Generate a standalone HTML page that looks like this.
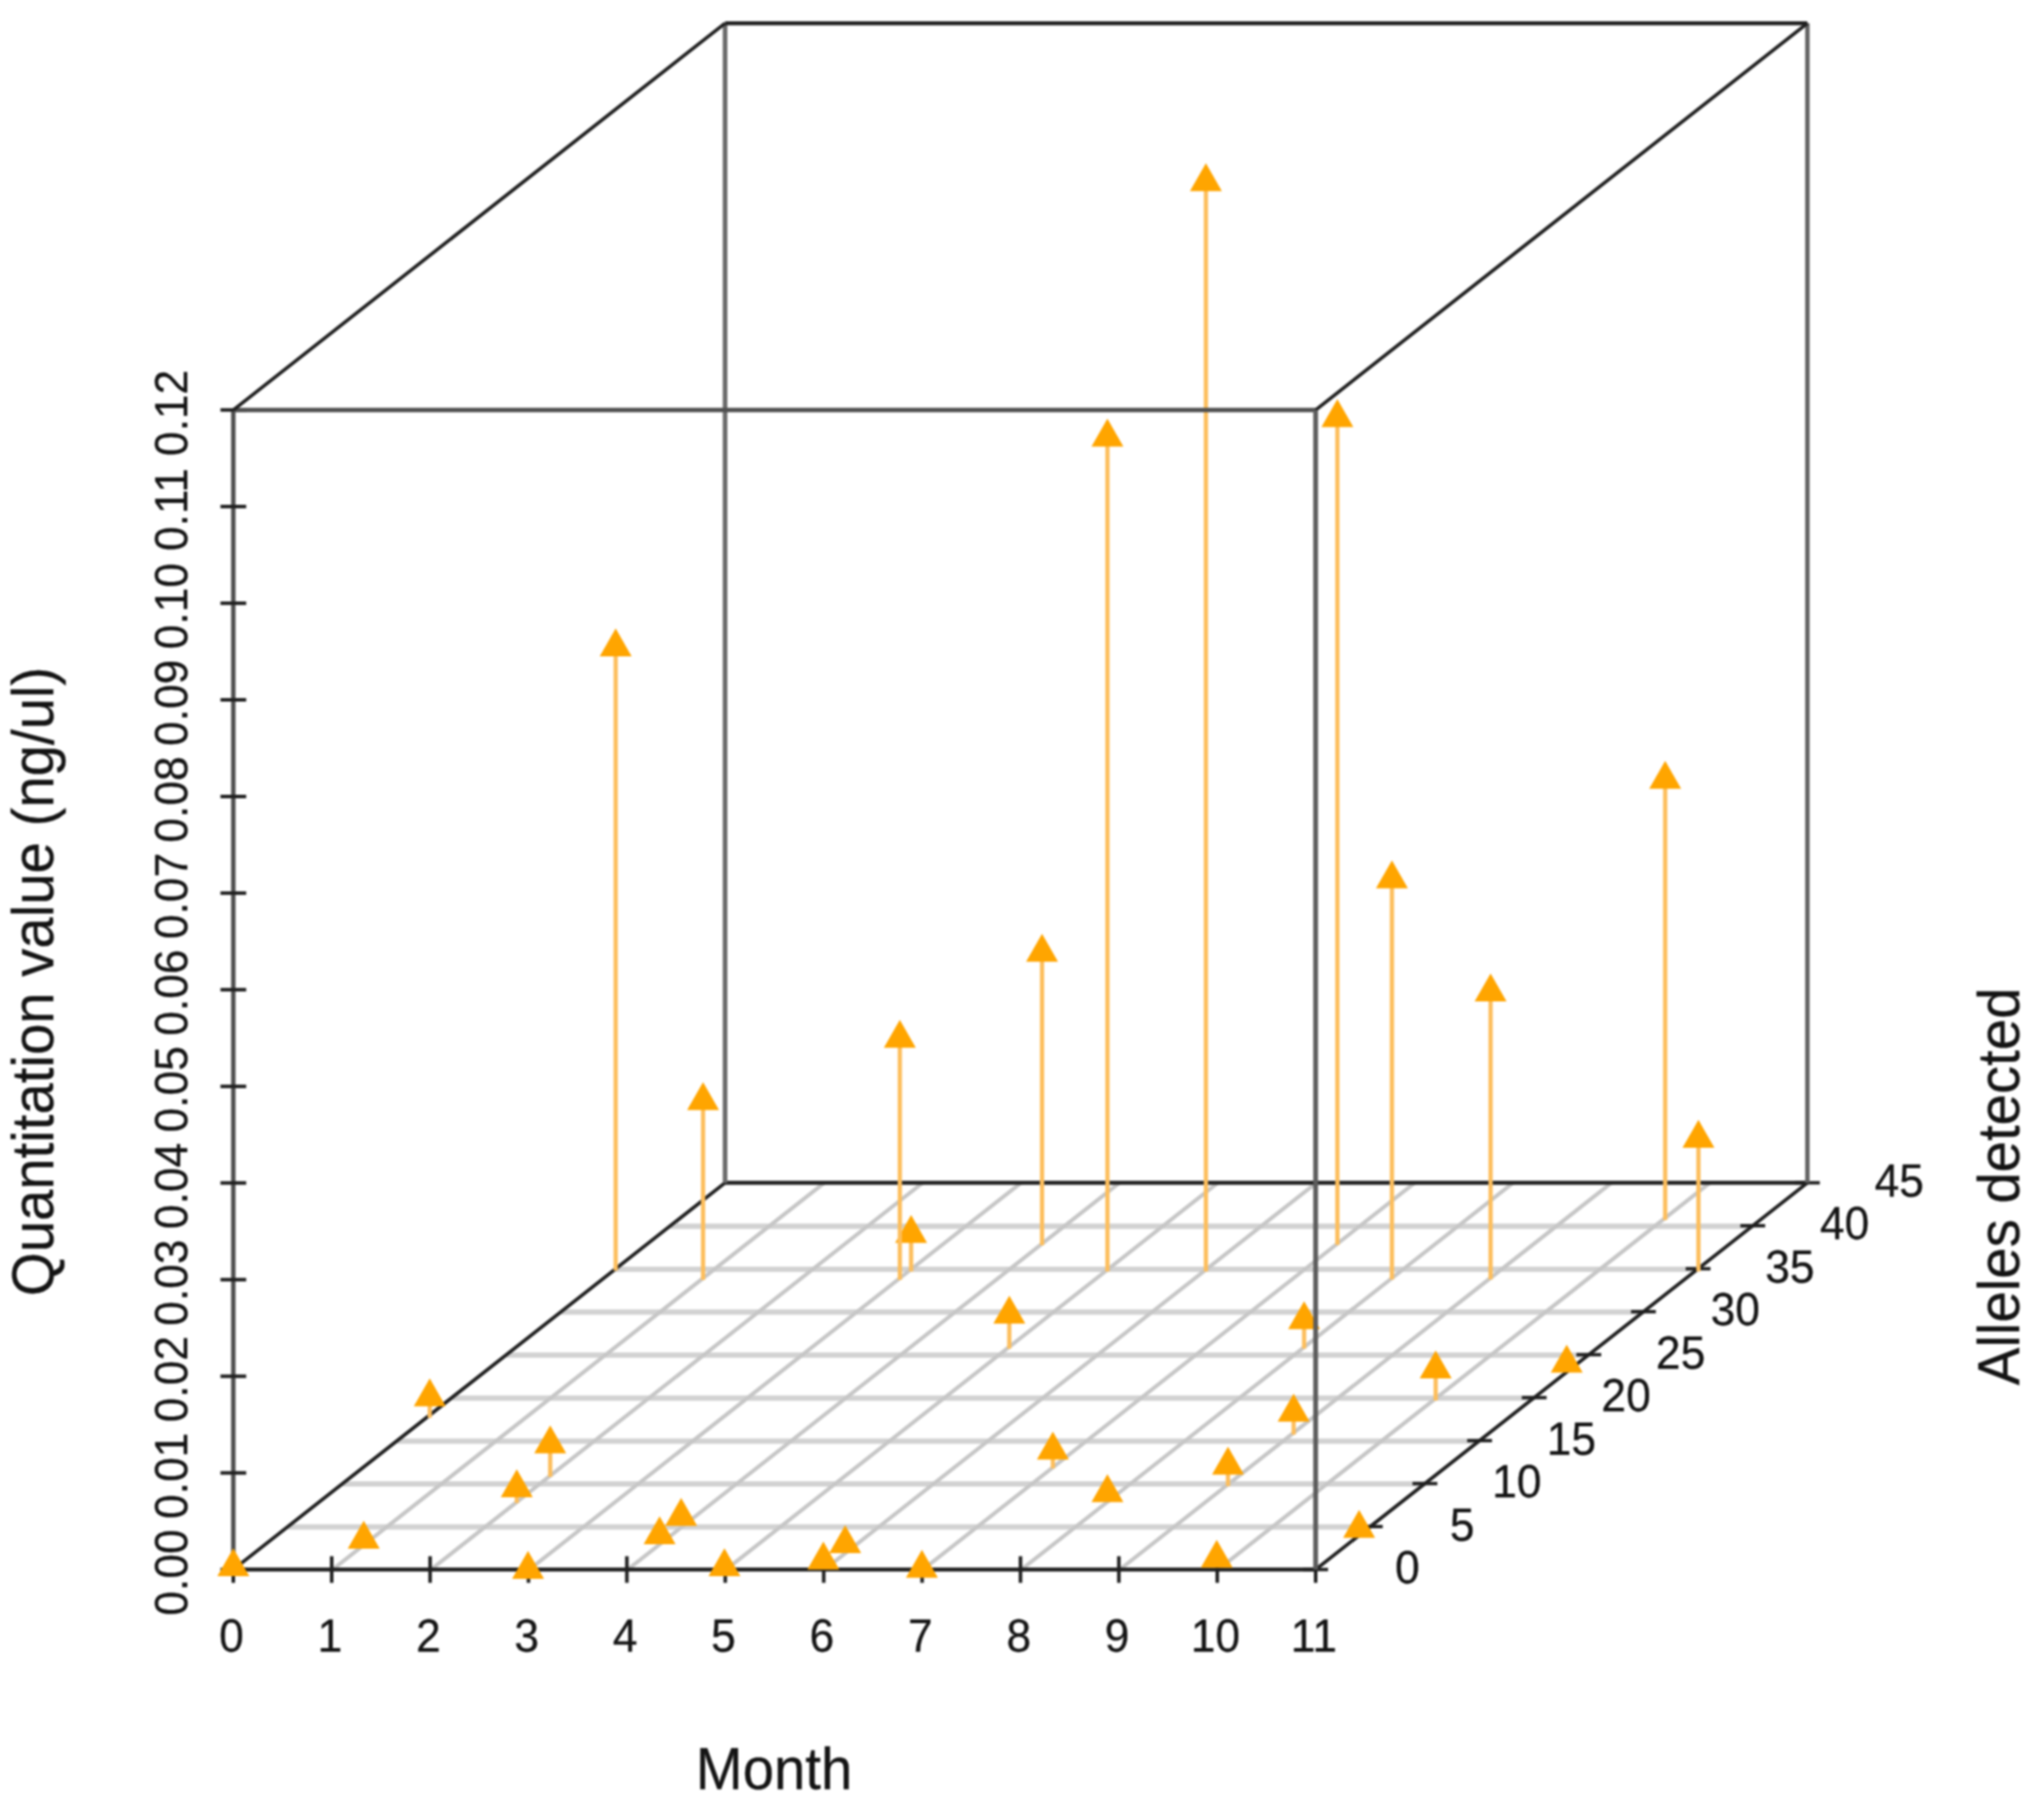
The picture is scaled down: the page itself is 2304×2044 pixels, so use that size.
<!DOCTYPE html>
<html lang="en">
<head>
<meta charset="utf-8">
<title>Quantitation value by Month and Alleles detected</title>
<style>
html,body{margin:0;padding:0;background:#fff;}
body{width:2304px;height:2044px;overflow:hidden;}
svg{display:block;filter:blur(0.9px);}
</style>
</head>
<body>
<svg width="2304" height="2044" viewBox="0 0 2304 2044">
<rect x="-10" y="-10" width="2324" height="2064" fill="#ffffff"/>
<g id="grid">
<line x1="324.6" y1="1721.6" x2="1544.6" y2="1721.6" stroke="#d2d2d2" stroke-width="6.0"/>
<line x1="386.2" y1="1673.1" x2="1606.2" y2="1673.1" stroke="#d2d2d2" stroke-width="6.0"/>
<line x1="447.8" y1="1624.7" x2="1667.8" y2="1624.7" stroke="#d2d2d2" stroke-width="6.0"/>
<line x1="509.4" y1="1576.2" x2="1729.4" y2="1576.2" stroke="#d2d2d2" stroke-width="6.0"/>
<line x1="570.9" y1="1527.8" x2="1790.9" y2="1527.8" stroke="#d2d2d2" stroke-width="6.0"/>
<line x1="632.5" y1="1479.3" x2="1852.5" y2="1479.3" stroke="#d2d2d2" stroke-width="6.0"/>
<line x1="694.1" y1="1430.9" x2="1914.1" y2="1430.9" stroke="#d2d2d2" stroke-width="6.0"/>
<line x1="755.7" y1="1382.4" x2="1975.7" y2="1382.4" stroke="#d2d2d2" stroke-width="6.0"/>
<line x1="374.9" y1="1769.5" x2="929.2" y2="1333.5" stroke="#c6c6c6" stroke-width="4.4"/>
<line x1="485.8" y1="1769.5" x2="1040.1" y2="1333.5" stroke="#c6c6c6" stroke-width="4.4"/>
<line x1="596.7" y1="1769.5" x2="1151.0" y2="1333.5" stroke="#c6c6c6" stroke-width="4.4"/>
<line x1="707.6" y1="1769.5" x2="1261.9" y2="1333.5" stroke="#c6c6c6" stroke-width="4.4"/>
<line x1="818.5" y1="1769.5" x2="1372.8" y2="1333.5" stroke="#c6c6c6" stroke-width="4.4"/>
<line x1="929.5" y1="1769.5" x2="1483.8" y2="1333.5" stroke="#c6c6c6" stroke-width="4.4"/>
<line x1="1040.4" y1="1769.5" x2="1594.7" y2="1333.5" stroke="#c6c6c6" stroke-width="4.4"/>
<line x1="1151.3" y1="1769.5" x2="1705.6" y2="1333.5" stroke="#c6c6c6" stroke-width="4.4"/>
<line x1="1262.2" y1="1769.5" x2="1816.5" y2="1333.5" stroke="#c6c6c6" stroke-width="4.4"/>
<line x1="1373.1" y1="1769.5" x2="1927.4" y2="1333.5" stroke="#c6c6c6" stroke-width="4.4"/>
</g>
<g id="axes" stroke-linecap="butt">
<line x1="263.0" y1="1769.5" x2="1483.0" y2="1769.5" stroke="#202020" stroke-width="4.5"/>
<line x1="263.0" y1="1769.5" x2="263.0" y2="462.2" stroke="#4e4e4e" stroke-width="5.0"/>
<line x1="1483.0" y1="1769.5" x2="2037.3" y2="1333.5" stroke="#202020" stroke-width="4.0"/>
<line x1="263.0" y1="1754.5" x2="263.0" y2="1784.5" stroke="#202020" stroke-width="4.0"/>
<line x1="373.9" y1="1754.5" x2="373.9" y2="1784.5" stroke="#202020" stroke-width="4.0"/>
<line x1="484.8" y1="1754.5" x2="484.8" y2="1784.5" stroke="#202020" stroke-width="4.0"/>
<line x1="595.7" y1="1754.5" x2="595.7" y2="1784.5" stroke="#202020" stroke-width="4.0"/>
<line x1="706.6" y1="1754.5" x2="706.6" y2="1784.5" stroke="#202020" stroke-width="4.0"/>
<line x1="817.5" y1="1754.5" x2="817.5" y2="1784.5" stroke="#202020" stroke-width="4.0"/>
<line x1="928.5" y1="1754.5" x2="928.5" y2="1784.5" stroke="#202020" stroke-width="4.0"/>
<line x1="1039.4" y1="1754.5" x2="1039.4" y2="1784.5" stroke="#202020" stroke-width="4.0"/>
<line x1="1150.3" y1="1754.5" x2="1150.3" y2="1784.5" stroke="#202020" stroke-width="4.0"/>
<line x1="1261.2" y1="1754.5" x2="1261.2" y2="1784.5" stroke="#202020" stroke-width="4.0"/>
<line x1="1372.1" y1="1754.5" x2="1372.1" y2="1784.5" stroke="#202020" stroke-width="4.0"/>
<line x1="1483.0" y1="1754.5" x2="1483.0" y2="1784.5" stroke="#202020" stroke-width="4.0"/>
<line x1="248.5" y1="1769.5" x2="277.5" y2="1769.5" stroke="#202020" stroke-width="4.0"/>
<line x1="248.5" y1="1660.6" x2="277.5" y2="1660.6" stroke="#202020" stroke-width="4.0"/>
<line x1="248.5" y1="1551.6" x2="277.5" y2="1551.6" stroke="#202020" stroke-width="4.0"/>
<line x1="248.5" y1="1442.7" x2="277.5" y2="1442.7" stroke="#202020" stroke-width="4.0"/>
<line x1="248.5" y1="1333.7" x2="277.5" y2="1333.7" stroke="#202020" stroke-width="4.0"/>
<line x1="248.5" y1="1224.8" x2="277.5" y2="1224.8" stroke="#202020" stroke-width="4.0"/>
<line x1="248.5" y1="1115.8" x2="277.5" y2="1115.8" stroke="#202020" stroke-width="4.0"/>
<line x1="248.5" y1="1006.9" x2="277.5" y2="1006.9" stroke="#202020" stroke-width="4.0"/>
<line x1="248.5" y1="898.0" x2="277.5" y2="898.0" stroke="#202020" stroke-width="4.0"/>
<line x1="248.5" y1="789.0" x2="277.5" y2="789.0" stroke="#202020" stroke-width="4.0"/>
<line x1="248.5" y1="680.1" x2="277.5" y2="680.1" stroke="#202020" stroke-width="4.0"/>
<line x1="248.5" y1="571.1" x2="277.5" y2="571.1" stroke="#202020" stroke-width="4.0"/>
<line x1="248.5" y1="462.2" x2="277.5" y2="462.2" stroke="#202020" stroke-width="4.0"/>
<line x1="1469.0" y1="1769.5" x2="1497.0" y2="1769.5" stroke="#202020" stroke-width="3.8"/>
<line x1="1530.6" y1="1721.1" x2="1558.6" y2="1721.1" stroke="#202020" stroke-width="3.8"/>
<line x1="1592.2" y1="1672.6" x2="1620.2" y2="1672.6" stroke="#202020" stroke-width="3.8"/>
<line x1="1653.8" y1="1624.2" x2="1681.8" y2="1624.2" stroke="#202020" stroke-width="3.8"/>
<line x1="1715.4" y1="1575.7" x2="1743.4" y2="1575.7" stroke="#202020" stroke-width="3.8"/>
<line x1="1776.9" y1="1527.3" x2="1804.9" y2="1527.3" stroke="#202020" stroke-width="3.8"/>
<line x1="1838.5" y1="1478.8" x2="1866.5" y2="1478.8" stroke="#202020" stroke-width="3.8"/>
<line x1="1900.1" y1="1430.4" x2="1928.1" y2="1430.4" stroke="#202020" stroke-width="3.8"/>
<line x1="1961.7" y1="1381.9" x2="1989.7" y2="1381.9" stroke="#202020" stroke-width="3.8"/>
<line x1="2023.3" y1="1333.5" x2="2051.3" y2="1333.5" stroke="#202020" stroke-width="3.8"/>
<line x1="263.0" y1="1769.5" x2="817.3" y2="1333.5" stroke="#202020" stroke-width="4.0"/>
<line x1="817.3" y1="1333.5" x2="2037.3" y2="1333.5" stroke="#202020" stroke-width="4.6"/>
<line x1="817.3" y1="1333.5" x2="817.3" y2="26.2" stroke="#6a6a6a" stroke-width="5.2"/>
<line x1="2037.3" y1="1333.5" x2="2037.3" y2="26.2" stroke="#626262" stroke-width="5.0"/>
<line x1="817.3" y1="26.2" x2="2037.3" y2="26.2" stroke="#202020" stroke-width="4.6"/>
</g>
<g id="points">
<line x1="1877.0" y1="1375.5" x2="1877.0" y2="878.7" stroke="#FDBE5C" stroke-width="4.8"/>
<polygon points="1877.0,857.7 1895.0,889.2 1859.0,889.2" fill="#FFA500"/>
<line x1="1507.5" y1="1403.5" x2="1507.5" y2="471.0" stroke="#FDBE5C" stroke-width="4.8"/>
<polygon points="1507.5,450.0 1525.5,481.5 1489.5,481.5" fill="#FFA500"/>
<line x1="1174.6" y1="1404.0" x2="1174.6" y2="1073.7" stroke="#FDBE5C" stroke-width="4.8"/>
<polygon points="1174.6,1052.7 1192.6,1084.2 1156.6,1084.2" fill="#FFA500"/>
<line x1="694.0" y1="1432.5" x2="694.0" y2="729.5" stroke="#FDBE5C" stroke-width="4.8"/>
<polygon points="694.0,708.5 712.0,740.0 676.0,740.0" fill="#FFA500"/>
<line x1="1027.0" y1="1433.5" x2="1027.0" y2="1390.8" stroke="#FDBE5C" stroke-width="4.8"/>
<polygon points="1027.0,1369.8 1045.0,1401.3 1009.0,1401.3" fill="#FFA500"/>
<line x1="1248.3" y1="1433.5" x2="1248.3" y2="493.0" stroke="#FDBE5C" stroke-width="4.8"/>
<polygon points="1248.3,472.0 1266.3,503.5 1230.3,503.5" fill="#FFA500"/>
<line x1="1359.3" y1="1433.5" x2="1359.3" y2="205.0" stroke="#FDBE5C" stroke-width="4.8"/>
<polygon points="1359.3,184.0 1377.3,215.5 1341.3,215.5" fill="#FFA500"/>
<line x1="1914.5" y1="1433.5" x2="1914.5" y2="1283.6" stroke="#FDBE5C" stroke-width="4.8"/>
<polygon points="1914.5,1262.6 1932.5,1294.1 1896.5,1294.1" fill="#FFA500"/>
<line x1="1569.0" y1="1442.5" x2="1569.0" y2="991.0" stroke="#FDBE5C" stroke-width="4.8"/>
<polygon points="1569.0,970.0 1587.0,1001.5 1551.0,1001.5" fill="#FFA500"/>
<line x1="1680.2" y1="1442.5" x2="1680.2" y2="1118.6" stroke="#FDBE5C" stroke-width="4.8"/>
<polygon points="1680.2,1097.6 1698.2,1129.1 1662.2,1129.1" fill="#FFA500"/>
<line x1="792.5" y1="1443.0" x2="792.5" y2="1241.0" stroke="#FDBE5C" stroke-width="4.8"/>
<polygon points="792.5,1220.0 810.5,1251.5 774.5,1251.5" fill="#FFA500"/>
<line x1="1014.3" y1="1443.0" x2="1014.3" y2="1170.7" stroke="#FDBE5C" stroke-width="4.8"/>
<polygon points="1014.3,1149.7 1032.3,1181.2 996.3,1181.2" fill="#FFA500"/>
<line x1="1137.7" y1="1520.5" x2="1137.7" y2="1481.8" stroke="#FDBE5C" stroke-width="4.8"/>
<polygon points="1137.7,1460.8 1155.7,1492.3 1119.7,1492.3" fill="#FFA500"/>
<line x1="1470.0" y1="1520.5" x2="1470.0" y2="1488.0" stroke="#FDBE5C" stroke-width="4.8"/>
<polygon points="1470.0,1467.0 1488.0,1498.5 1452.0,1498.5" fill="#FFA500"/>
<polygon points="1766.0,1516.0 1784.0,1547.5 1748.0,1547.5" fill="#FFA500"/>
<line x1="1618.3" y1="1579.0" x2="1618.3" y2="1543.5" stroke="#FDBE5C" stroke-width="4.8"/>
<polygon points="1618.3,1522.5 1636.3,1554.0 1600.3,1554.0" fill="#FFA500"/>
<line x1="484.4" y1="1598.5" x2="484.4" y2="1575.0" stroke="#FDBE5C" stroke-width="4.8"/>
<polygon points="484.4,1554.0 502.4,1585.5 466.4,1585.5" fill="#FFA500"/>
<line x1="1458.2" y1="1617.5" x2="1458.2" y2="1592.3" stroke="#FDBE5C" stroke-width="4.8"/>
<polygon points="1458.2,1571.3 1476.2,1602.8 1440.2,1602.8" fill="#FFA500"/>
<line x1="1186.8" y1="1655.5" x2="1186.8" y2="1635.0" stroke="#FDBE5C" stroke-width="4.8"/>
<polygon points="1186.8,1614.0 1204.8,1645.5 1168.8,1645.5" fill="#FFA500"/>
<line x1="620.2" y1="1665.0" x2="620.2" y2="1628.0" stroke="#FDBE5C" stroke-width="4.8"/>
<polygon points="620.2,1607.0 638.2,1638.5 602.2,1638.5" fill="#FFA500"/>
<line x1="1384.2" y1="1675.5" x2="1384.2" y2="1652.0" stroke="#FDBE5C" stroke-width="4.8"/>
<polygon points="1384.2,1631.0 1402.2,1662.5 1366.2,1662.5" fill="#FFA500"/>
<polygon points="1248.3,1662.0 1266.3,1693.5 1230.3,1693.5" fill="#FFA500"/>
<line x1="582.5" y1="1694.5" x2="582.5" y2="1677.6" stroke="#FDBE5C" stroke-width="4.8"/>
<polygon points="582.5,1656.6 600.5,1688.1 564.5,1688.1" fill="#FFA500"/>
<polygon points="767.8,1688.7 785.8,1720.2 749.8,1720.2" fill="#FFA500"/>
<polygon points="1532.0,1702.2 1550.0,1733.7 1514.0,1733.7" fill="#FFA500"/>
<polygon points="743.5,1709.4 761.5,1740.9 725.5,1740.9" fill="#FFA500"/>
<polygon points="410.0,1714.6 428.0,1746.1 392.0,1746.1" fill="#FFA500"/>
<polygon points="952.7,1719.5 970.7,1751.0 934.7,1751.0" fill="#FFA500"/>
<polygon points="1371.5,1736.0 1389.5,1767.5 1353.5,1767.5" fill="#FFA500"/>
<polygon points="928.1,1738.0 946.1,1769.5 910.1,1769.5" fill="#FFA500"/>
<polygon points="263.0,1745.5 281.0,1777.0 245.0,1777.0" fill="#FFA500"/>
<polygon points="816.6,1745.5 834.6,1777.0 798.6,1777.0" fill="#FFA500"/>
<polygon points="1039.2,1747.3 1057.2,1778.8 1021.2,1778.8" fill="#FFA500"/>
<polygon points="595.2,1748.6 613.2,1780.1 577.2,1780.1" fill="#FFA500"/>
</g>
<g id="front">
<line x1="263.0" y1="462.2" x2="1483.0" y2="462.2" stroke="#505050" stroke-width="5.0"/>
<line x1="1483.0" y1="462.2" x2="2037.3" y2="26.2" stroke="#202020" stroke-width="4.0"/>
<line x1="263.0" y1="462.2" x2="817.3" y2="26.2" stroke="#202020" stroke-width="4.0"/>
<line x1="1483.0" y1="1769.5" x2="1483.0" y2="462.2" stroke="#5c5c5c" stroke-width="5.4"/>
</g>
<g id="labels" fill="#141414" stroke="#141414" stroke-width="0.3" font-family="'Liberation Sans', Arial, sans-serif" text-anchor="middle">
<text transform="translate(261.0,1861.5) scale(1,1.03)" font-size="50">0</text>
<text transform="translate(371.9,1861.5) scale(1,1.03)" font-size="50">1</text>
<text transform="translate(482.8,1861.5) scale(1,1.03)" font-size="50">2</text>
<text transform="translate(593.7,1861.5) scale(1,1.03)" font-size="50">3</text>
<text transform="translate(704.6,1861.5) scale(1,1.03)" font-size="50">4</text>
<text transform="translate(815.5,1861.5) scale(1,1.03)" font-size="50">5</text>
<text transform="translate(926.5,1861.5) scale(1,1.03)" font-size="50">6</text>
<text transform="translate(1037.4,1861.5) scale(1,1.03)" font-size="50">7</text>
<text transform="translate(1148.3,1861.5) scale(1,1.03)" font-size="50">8</text>
<text transform="translate(1259.2,1861.5) scale(1,1.03)" font-size="50">9</text>
<text transform="translate(1370.1,1861.5) scale(1,1.03)" font-size="50">10</text>
<text transform="translate(1481.0,1861.5) scale(1,1.03)" font-size="50">11</text>
<text transform="translate(211,1772.8) rotate(-90) scale(1,1.03)" font-size="50">0.00</text>
<text transform="translate(211,1663.9) rotate(-90) scale(1,1.03)" font-size="50">0.01</text>
<text transform="translate(211,1554.9) rotate(-90) scale(1,1.03)" font-size="50">0.02</text>
<text transform="translate(211,1446.0) rotate(-90) scale(1,1.03)" font-size="50">0.03</text>
<text transform="translate(211,1337.0) rotate(-90) scale(1,1.03)" font-size="50">0.04</text>
<text transform="translate(211,1228.1) rotate(-90) scale(1,1.03)" font-size="50">0.05</text>
<text transform="translate(211,1119.1) rotate(-90) scale(1,1.03)" font-size="50">0.06</text>
<text transform="translate(211,1010.2) rotate(-90) scale(1,1.03)" font-size="50">0.07</text>
<text transform="translate(211,901.3) rotate(-90) scale(1,1.03)" font-size="50">0.08</text>
<text transform="translate(211,792.3) rotate(-90) scale(1,1.03)" font-size="50">0.09</text>
<text transform="translate(211,683.4) rotate(-90) scale(1,1.03)" font-size="50">0.10</text>
<text transform="translate(211,574.4) rotate(-90) scale(1,1.03)" font-size="50">0.11</text>
<text transform="translate(211,465.5) rotate(-90) scale(1,1.03)" font-size="50">0.12</text>
<text transform="translate(1586.5,1785.0) scale(1,1.03)" font-size="50">0</text>
<text transform="translate(1648.1,1736.6) scale(1,1.03)" font-size="50">5</text>
<text transform="translate(1709.7,1688.1) scale(1,1.03)" font-size="50">10</text>
<text transform="translate(1771.3,1639.7) scale(1,1.03)" font-size="50">15</text>
<text transform="translate(1832.9,1591.2) scale(1,1.03)" font-size="50">20</text>
<text transform="translate(1894.4,1542.8) scale(1,1.03)" font-size="50">25</text>
<text transform="translate(1956.0,1494.3) scale(1,1.03)" font-size="50">30</text>
<text transform="translate(2017.6,1445.9) scale(1,1.03)" font-size="50">35</text>
<text transform="translate(2079.2,1397.4) scale(1,1.03)" font-size="50">40</text>
<text transform="translate(2140.8,1349.0) scale(1,1.03)" font-size="50">45</text>
<text transform="translate(872.5,2016.5) scale(1,1.045)" font-size="63.5">Month</text>
<text transform="translate(60,1106.5) rotate(-90) scale(1,1.045)" font-size="63.5">Quantitation value (ng/ul)</text>
<text transform="translate(2276,1337.5) rotate(-90) scale(1,1.045)" font-size="63.5">Alleles detected</text>
</g>
</svg>
</body>
</html>
